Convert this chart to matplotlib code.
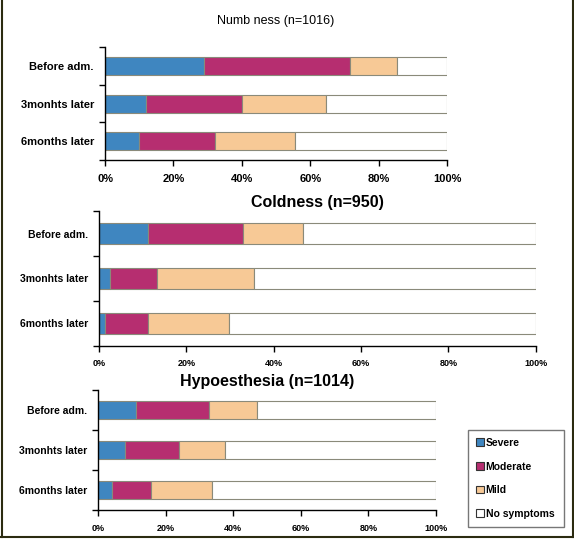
import numpy as np
import matplotlib.pyplot as plt
from matplotlib.lines import Line2D
from matplotlib.patches import Patch

plt.rcParams['font.family'] = ['Liberation Sans', 'DejaVu Sans']

rows = ["Before adm.", "3monhts later", "6months later"]
series = ["Severe", "Moderate", "Mild", "No symptoms"]
colors = ["#3f86c0", "#b62e70", "#f7c996", "#ffffff"]

# percent of patients in each grade
numb_severe = [28.9, 12.0, 10.0]
numb_moderate = [42.7, 28.0, 22.1]
numb_mild = [13.8, 24.5, 23.3]
numb_none = [14.6, 35.5, 44.6]

cold_severe = [11.1, 2.5, 1.4]
cold_moderate = [21.9, 10.7, 9.7]
cold_mild = [13.8, 22.3, 18.6]
cold_none = [53.2, 64.5, 70.3]

hypo_severe = [11.1, 7.9, 4.2]
hypo_moderate = [21.7, 16.0, 11.6]
hypo_mild = [14.3, 13.8, 18.0]
hypo_none = [52.9, 62.3, 66.2]

xticks = [0, 20, 40, 60, 80, 100]
xlabels = ["0%", "20%", "40%", "60%", "80%", "100%"]

fig = plt.figure(figsize=(5.74, 5.40), dpi=100)


def panel(rect, title, data, tsize, tweight, tpad, lsize, xsize, barh):
    ax = fig.add_axes(rect)
    y = np.arange(len(rows))
    left = np.zeros(len(rows))
    for vals, c in zip(data, colors):
        ax.barh(y, vals, left=left, height=barh, color=c,
                edgecolor="#8a8a7a", linewidth=0.8)
        left += np.array(vals)
    ax.set_xlim(0, 100)
    ax.set_ylim(2.5, -0.5)
    ax.set_yticks(y)
    ax.set_yticklabels(rows, fontsize=lsize, fontweight="bold")
    ax.set_yticks([-0.5, 0.5, 1.5, 2.5], minor=True)
    ax.tick_params(axis="y", which="major", length=0, pad=8)
    ax.tick_params(axis="y", which="minor", length=4, width=1)
    ax.set_xticks(xticks)
    ax.set_xticklabels(xlabels, fontsize=xsize, fontweight="bold")
    ax.tick_params(axis="x", length=4, width=1, pad=6)
    for s in ["top", "right"]:
        ax.spines[s].set_visible(False)
    ax.spines["left"].set_linewidth(1)
    ax.spines["bottom"].set_linewidth(1)
    ax.set_title(title, fontsize=tsize, fontweight=tweight, pad=tpad)
    return ax


panel([0.183, 0.7037, 0.596, 0.209], "Numb ness (n=1016)",
      [numb_severe, numb_moderate, numb_mild, numb_none],
      9, "normal", 17, 8, 8, 0.48)
panel([0.1725, 0.360, 0.761, 0.249], "Coldness (n=950)",
      [cold_severe, cold_moderate, cold_mild, cold_none],
      11.5, "bold", 3, 7.5, 6.5, 0.47)
panel([0.1707, 0.0556, 0.589, 0.222], "Hypoesthesia (n=1014)",
      [hypo_severe, hypo_moderate, hypo_mild, hypo_none],
      11.5, "bold", 3, 7.5, 6.5, 0.45)

handles = [Patch(facecolor=c, edgecolor="#333333", linewidth=0.8) for c in colors]
fig.legend(handles, series, loc="lower left",
           bbox_to_anchor=(468 / 574, 1 - 527 / 540, 96 / 574, 99 / 540),
           mode="expand", prop={"size": 7.5, "weight": "bold"},
           frameon=True, fancybox=False,
           edgecolor="#555555", handlelength=0.7, handleheight=0.8,
           handletextpad=0.2, labelspacing=1.3, borderpad=0.8,
           borderaxespad=0)

# outer frame of the picture
fc = "#2b2b10"
fig.add_artist(Line2D([1.5 / 574, 1.5 / 574], [1 - 537 / 540, 1], color=fc, lw=1.5))
fig.add_artist(Line2D([572.5 / 574, 572.5 / 574], [1 - 537 / 540, 1], color=fc, lw=1.5))
fig.add_artist(Line2D([0, 1], [1 - 537 / 540, 1 - 537 / 540], color=fc, lw=1.5))

fig.savefig("out.png", dpi=100)
